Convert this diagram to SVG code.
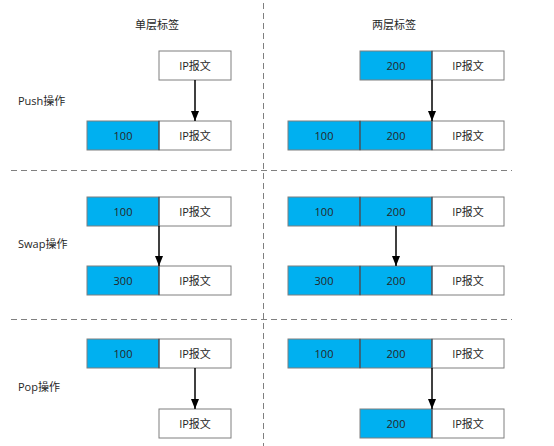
<svg xmlns="http://www.w3.org/2000/svg" width="554" height="446" viewBox="0 0 554 446">
<style>
text{font-family:"Open Sans","Noto Sans CJK SC",sans-serif;font-size:11px;fill:#262626;text-anchor:middle;dominant-baseline:central}
.lbl{text-anchor:start}
.b{fill:#00B0F0;stroke:#7f7f7f;stroke-width:1}
.w{fill:#ffffff;stroke:#7f7f7f;stroke-width:1}
.d{stroke:#2a3a4a;stroke-width:1}
.sep{stroke:#808080;stroke-width:1;stroke-dasharray:6,4;fill:none}
.arr{stroke:#000;stroke-width:1.5;fill:none;marker-end:url(#ah)}
</style>
<defs>
<marker id="ah" markerWidth="10" markerHeight="8" refX="10" refY="4" orient="auto" markerUnits="userSpaceOnUse" viewBox="0 0 10 8">
<path d="M0,0 L10,4 L0,8 Z" fill="#000"/>
</marker>
</defs>
<g id="grid">
<line class="sep" x1="263.5" y1="3" x2="263.5" y2="446"/>
<line class="sep" x1="11" y1="170.5" x2="512" y2="170.5"/>
<line class="sep" x1="11" y1="319.5" x2="512" y2="319.5"/>
</g>
<g id="labels">
<text x="157" y="24">单层标签</text>
<text x="394" y="24">两层标签</text>
<text class="lbl" x="18" y="100">Push操作</text>
<text class="lbl" x="18" y="243">Swap操作</text>
<text class="lbl" x="18" y="386">Pop操作</text>
</g>
<g id="push1-top"><rect class="w" x="159" y="51" width="72" height="29"/><text x="195" y="65.5">IP报文</text></g>
<g id="push1-bottom"><rect class="b" x="87" y="121" width="72" height="29"/><rect class="w" x="159" y="121" width="72" height="29"/><line class="d" x1="159" y1="121" x2="159" y2="150"/><text x="123" y="135.5">100</text><text x="195" y="135.5">IP报文</text></g>
<g id="push2-top"><rect class="b" x="360" y="51" width="72" height="29"/><rect class="w" x="432" y="51" width="72" height="29"/><line class="d" x1="432" y1="51" x2="432" y2="80"/><text x="396" y="65.5">200</text><text x="468" y="65.5">IP报文</text></g>
<g id="push2-bottom"><rect class="b" x="288" y="121" width="72" height="29"/><rect class="b" x="360" y="121" width="72" height="29"/><rect class="w" x="432" y="121" width="72" height="29"/><line class="d" x1="360" y1="121" x2="360" y2="150"/><line class="d" x1="432" y1="121" x2="432" y2="150"/><text x="324" y="135.5">100</text><text x="396" y="135.5">200</text><text x="468" y="135.5">IP报文</text></g>
<g id="swap1-top"><rect class="b" x="87" y="197" width="72" height="29"/><rect class="w" x="159" y="197" width="72" height="29"/><line class="d" x1="159" y1="197" x2="159" y2="226"/><text x="123" y="211.5">100</text><text x="195" y="211.5">IP报文</text></g>
<g id="swap1-bottom"><rect class="b" x="87" y="266" width="72" height="29"/><rect class="w" x="159" y="266" width="72" height="29"/><line class="d" x1="159" y1="266" x2="159" y2="295"/><text x="123" y="280.5">300</text><text x="195" y="280.5">IP报文</text></g>
<g id="swap2-top"><rect class="b" x="288" y="197" width="72" height="29"/><rect class="b" x="360" y="197" width="72" height="29"/><rect class="w" x="432" y="197" width="72" height="29"/><line class="d" x1="360" y1="197" x2="360" y2="226"/><line class="d" x1="432" y1="197" x2="432" y2="226"/><text x="324" y="211.5">100</text><text x="396" y="211.5">200</text><text x="468" y="211.5">IP报文</text></g>
<g id="swap2-bottom"><rect class="b" x="288" y="266" width="72" height="29"/><rect class="b" x="360" y="266" width="72" height="29"/><rect class="w" x="432" y="266" width="72" height="29"/><line class="d" x1="360" y1="266" x2="360" y2="295"/><line class="d" x1="432" y1="266" x2="432" y2="295"/><text x="324" y="280.5">300</text><text x="396" y="280.5">200</text><text x="468" y="280.5">IP报文</text></g>
<g id="pop1-top"><rect class="b" x="87" y="339" width="72" height="29"/><rect class="w" x="159" y="339" width="72" height="29"/><line class="d" x1="159" y1="339" x2="159" y2="368"/><text x="123" y="353.5">100</text><text x="195" y="353.5">IP报文</text></g>
<g id="pop1-bottom"><rect class="w" x="159" y="409" width="72" height="29"/><text x="195" y="423.5">IP报文</text></g>
<g id="pop2-top"><rect class="b" x="288" y="339" width="72" height="29"/><rect class="b" x="360" y="339" width="72" height="29"/><rect class="w" x="432" y="339" width="72" height="29"/><line class="d" x1="360" y1="339" x2="360" y2="368"/><line class="d" x1="432" y1="339" x2="432" y2="368"/><text x="324" y="353.5">100</text><text x="396" y="353.5">200</text><text x="468" y="353.5">IP报文</text></g>
<g id="pop2-bottom"><rect class="b" x="360" y="409" width="72" height="29"/><rect class="w" x="432" y="409" width="72" height="29"/><line class="d" x1="432" y1="409" x2="432" y2="438"/><text x="396" y="423.5">200</text><text x="468" y="423.5">IP报文</text></g>
<g id="connectors">
<line class="arr" x1="195" y1="80" x2="195" y2="121"/>
<line class="arr" x1="432" y1="80" x2="432" y2="121"/>
<line class="arr" x1="159" y1="226" x2="159" y2="266"/>
<line class="arr" x1="396" y1="226" x2="396" y2="266"/>
<line class="arr" x1="195" y1="368" x2="195" y2="409"/>
<line class="arr" x1="432" y1="368" x2="432" y2="409"/>
</g>
</svg>
